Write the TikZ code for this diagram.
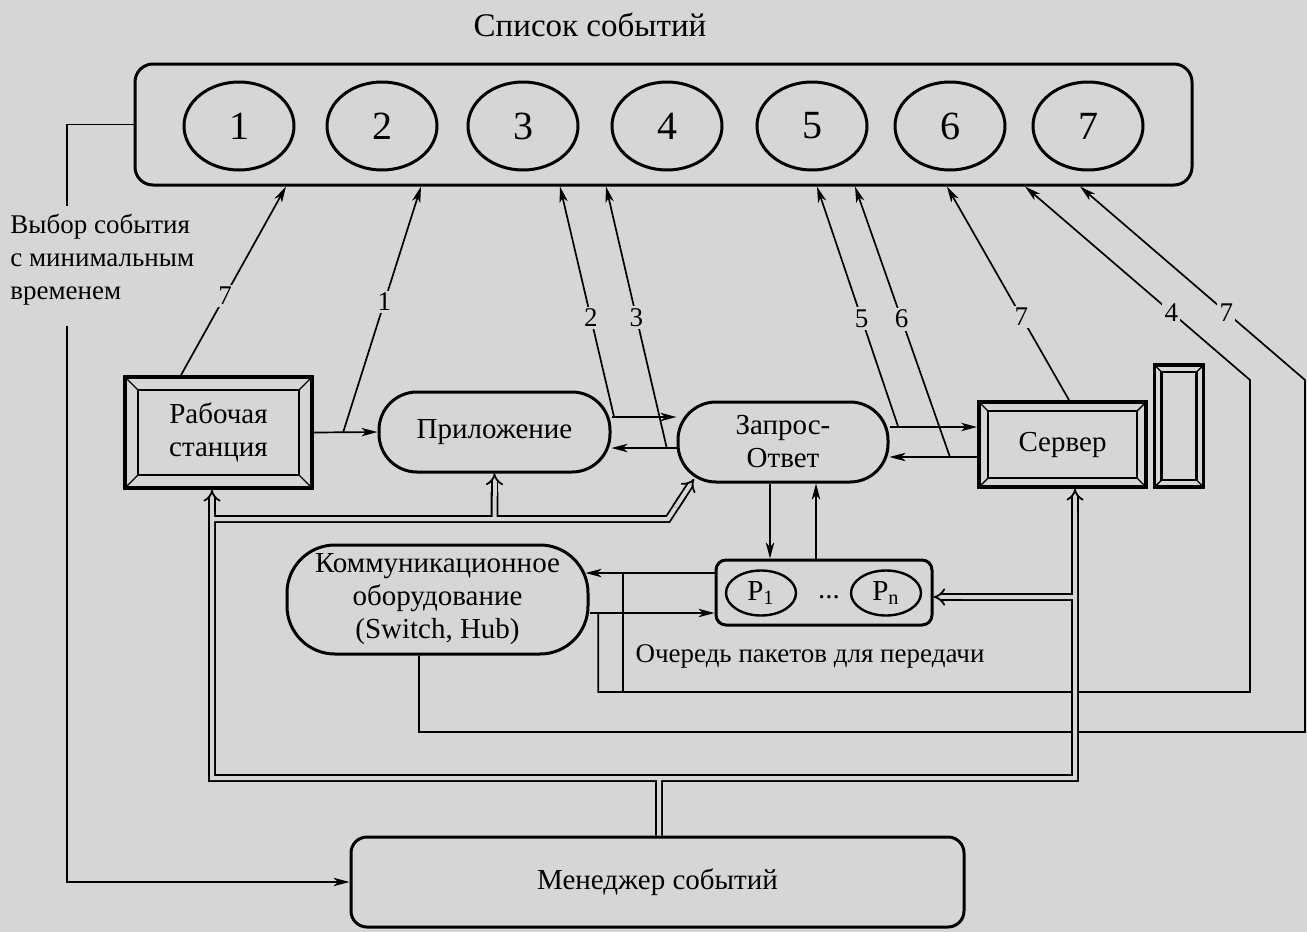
\documentclass[tikz,border=0pt]{standalone}
\usepackage{fontspec}
\setmainfont{Liberation Serif}
\usetikzlibrary{arrows.meta,shapes.geometric,calc}

\definecolor{paper}{RGB}{214,214,214}

\tikzset{
  txt/.style={font=\fontsize{14.5}{16.5}\selectfont, align=center},
  arr/.style={line width=0.85pt, -{Stealth[length=8pt,width=4.2pt,inset=2.2pt]}},
  conn/.style={line width=0.85pt},
  dbl/.style={line width=0.9pt, double=paper, double distance=2pt},
  dblarr/.style={dbl, -{Implies}},
  event/.style={draw, ellipse, line width=1.5pt, inner sep=0pt,
    minimum width=55pt, minimum height=44pt, font=\fontsize{20}{22}\selectfont},
  stadium/.style={draw, rounded corners=#1, line width=1.5pt, txt, inner sep=0pt},
  bevelbox/.style={draw, line width=1.9pt, txt, inner sep=0pt,
    path picture={
      \draw[line width=1.2pt]
        ([shift={(#1,-#1)}]path picture bounding box.north west) rectangle
        ([shift={(-#1,#1)}]path picture bounding box.south east);
      \draw[line width=0.7pt]
        (path picture bounding box.north west) -- ++(#1,-#1)
        (path picture bounding box.north east) -- ++(-#1,-#1)
        (path picture bounding box.south west) -- ++(#1,#1)
        (path picture bounding box.south east) -- ++(-#1,#1);
    }},
  num/.style={fill=paper, inner sep=1.2pt, font=\fontsize{13.5}{15}\selectfont},
}

\begin{document}
\begin{tikzpicture}[x=0.5pt, y=-0.5pt]
\fill[paper] (0,0) rectangle (1307,932);
\useasboundingbox (0,0) rectangle (1307,932);

% Event list and its events
\node[font=\fontsize{16.5}{18}\selectfont] (title) at (590,25) {Список событий};
\node[draw, rounded corners=9pt, line width=1.5pt, minimum width=528.5pt, minimum height=60.5pt] (list) at (663.5,124.5) {};
\node[event] (e1) at (239,126) {1};
\node[event] (e2) at (382,126) {2};
\node[event] (e3) at (523,126) {3};
\node[event] (e4) at (667,126) {4};
\node[event] (e5) at (812,126) {5};
\node[event] (e6) at (950,126) {6};
\node[event] (e7) at (1088,126) {7};

% Blocks of the modelled system
\node[bevelbox=6.5pt, minimum width=93.5pt, minimum height=55.5pt] (ws) at (218.5,432.5) {Рабочая\\станция};
\node[stadium=19pt, minimum width=115.5pt, minimum height=40pt] (app) at (494.5,432) {Приложение};
\node[stadium=19pt, minimum width=105pt, minimum height=40pt] (zo) at (783,442) {Запрос-\\Ответ};
\node[bevelbox=4.5pt, minimum width=83.5pt, minimum height=42.5pt] (srv) at (1062.5,444.5) {Сервер};
\node[bevelbox=3.5pt, minimum width=24.5pt, minimum height=61pt] (rack) at (1179,426) {};
\node[stadium=24pt, minimum width=150.5pt, minimum height=54.5pt] (comm) at (437.5,599.5) {Коммуникационное\\оборудование\\(Switch, Hub)};

% Packet queue
\node[draw, rounded corners=5pt, line width=1.5pt, minimum width=108pt, minimum height=32.5pt] (q) at (824,592.5) {};
\node[draw, ellipse, line width=1.2pt, inner sep=0pt, minimum width=35pt, minimum height=22.5pt, txt] (p1) at (761,593) {P\textsubscript{1}};
\node[txt] (dots) at (829,597) {...};
\node[draw, ellipse, line width=1.2pt, inner sep=0pt, minimum width=35pt, minimum height=22.5pt, txt] (pn) at (886,593) {P\textsubscript{n}};
\node[txt, font=\fontsize{13.5}{16}\selectfont] (qlbl) at (810,656) {Очередь пакетов для передачи};

% Event manager
\node[draw, rounded corners=8pt, line width=1.5pt, minimum width=306.5pt, minimum height=45pt, txt] (mgr) at (657.5,882) {Менеджер событий};
\node[txt, align=left, anchor=north west, font=\fontsize{13.5}{16.5}\selectfont, inner sep=4pt] (sel) at (2,206) {Выбор события\\с минимальным\\временем};

% Selection of the event with the minimal time
\coordinate (selEnd) at ([yshift=-6pt]sel.south -| 67,0);
\draw[conn] (list.west) -| (sel.north -| 67,0);
\draw[arr] (selEnd) |- (mgr.west);

% Flows between the blocks
\draw[arr] (ws.east) -- (app.west) coordinate[pos=0.46](c1);
\draw[arr] (app.east |- 0,417) -- (zo.west |- 0,417) coordinate[pos=0.04](c2);
\draw[arr] (zo.west |- 0,448) -- (app.east |- 0,448) coordinate[pos=0.15](c3);
\draw[arr] (zo.east |- 0,427) -- (srv.west |- 0,427) coordinate[pos=0.1](c5);
\draw[arr] (srv.west |- 0,457) -- (zo.east |- 0,457) coordinate[pos=0.31](c6);
\draw[arr] (zo.south -| 770,0) -- (q.north -| 770,0);
\draw[arr] (q.north -| 816,0) -- (zo.south -| 816,0);
\draw[arr, shorten >=-2pt] (q.west |- 0,573) -- (comm.east |- 0,573) coordinate[pos=0.73](c4b);
\draw[arr] (comm.east |- 0,613) -- (q.west |- 0,613) coordinate[pos=0.07](c4a);

% New events put into the list
\coordinate (r4) at (1250,692);
\coordinate (r4t) at (1250,380);
\coordinate (r7) at (1305,732);
\coordinate (r7t) at (1305,380);
\draw[arr] (ws.north -| 181,0) -- (list.south -| 286,0) node[num, pos=0.42] {7};
\draw[arr] (c1) -- (list.south -| 421,0) node[num, pos=0.53] {1};
\draw[arr] (c2) -- (list.south -| 560,0) node[num, pos=0.43] {2};
\draw[arr] (c3) -- (list.south -| 606,0) node[num, pos=0.5] {3};
\draw[arr] (c5) -- (list.south -| 817,0) node[num, pos=0.45] {5};
\draw[arr] (c6) -- (list.south -| 855,0) node[num, pos=0.51] {6};
\draw[arr] (srv.north -| 1069,0) -- (list.south -| 947,0) node[num, pos=0.39] {7};
\draw[arr] (c4a) |- (r4) -- (r4t) -- (list.south -| 1025,0) node[num, pos=0.35] {4};
\draw[conn] (c4b) -- (c4b |- r4);
\draw[arr] (comm.south -| 419,0) |- (r7) -- (r7t) -- (list.south -| 1080,0) node[num, pos=0.35] {7};

% Manager bus
\coordinate (bl) at (212,778);
\coordinate (br) at (1075,778);
\coordinate (bm) at (659,778);
\coordinate (ul) at (212,519);
\coordinate (uk) at (668,519);
\coordinate (zoIn) at (694,479);
\draw[dbl] (212,506) -- (bl) -- (br) -- (1075,506)
  (mgr.north -| bm) -- (bm)
  (ul) -- (uk) -- ($(uk)!0.6!(zoIn)$)
  (ul -| 494.5,0) -- (494.5,492)
  (br |- 0,597) -- (955,597);
\draw[dblarr] (212,512) -- (ws.south -| bl);
\draw[dblarr] (1075,512) -- (srv.south -| br);
\draw[dblarr] (494.5,496) -- (app.south);
\draw[dblarr] ($(uk)!0.3!(zoIn)$) -- (zoIn);
\draw[dblarr] (962,597) -- (q.east |- 0,597);

\end{tikzpicture}
\end{document}
